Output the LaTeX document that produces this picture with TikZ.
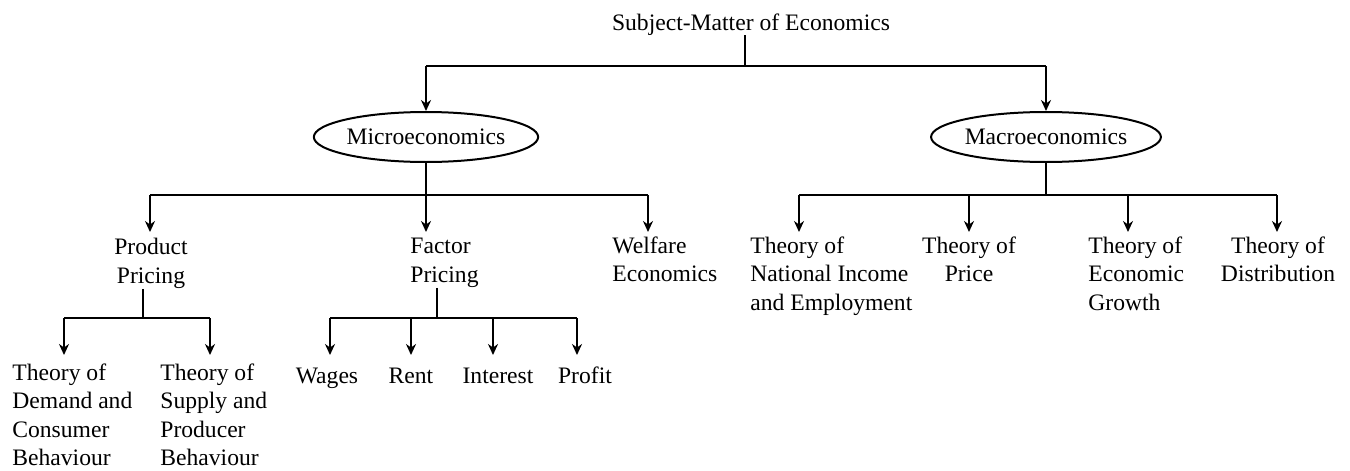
\documentclass[tikz,border=0pt]{standalone}
\usepackage{fontspec}
\setmainfont{Liberation Serif}
\usetikzlibrary{arrows.meta,shapes.geometric}
\begin{document}
\begin{tikzpicture}[x=0.5pt,y=-0.5pt,
  conn/.style={line width=1pt},
  arr/.style={line width=1pt,-{Stealth[length=5.5pt,width=5pt]},shorten >=3pt},
  lbl/.style={font=\fontsize{11.8}{14.3}\selectfont,inner sep=0pt,anchor=north,align=center},
  lbll/.style={font=\fontsize{11.8}{14.3}\selectfont,inner sep=0pt,anchor=north west,align=left},
  leaf/.style={font=\fontsize{11.8}{14.3}\selectfont,inner sep=0pt,anchor=north,text height=8.5pt,text depth=2.5pt},
  oval/.style={draw,ellipse,line width=1pt,minimum width=96pt,minimum height=25pt,inner sep=0pt,font=\fontsize{11.8}{14.3}\selectfont}]
\useasboundingbox (0,0) rectangle (1350,471);
% nodes
\node[lbl] (root) at (751,13) {Subject-Matter of Economics};
\node[oval] (micro) at (426,137) {Microeconomics};
\node[oval] (macro) at (1046,137) {Macroeconomics};
\node[lbl] (product) at (151,238) {Product\\Pricing};
\node[lbll] (factor) at (410,238) {Factor\\Pricing};
\node[lbll] (welfare) at (612,236) {Welfare\\Economics};
\node[lbll] (demand) at (12,363) {Theory of\\Demand and\\Consumer\\Behaviour};
\node[lbll] (supply) at (160,363) {Theory of\\Supply and\\Producer\\Behaviour};
\node[leaf] (wages) at (327,366) {Wages};
\node[leaf] (rent) at (411,366) {Rent};
\node[leaf] (interest) at (498,366) {Interest};
\node[leaf] (profit) at (585,366) {Profit};
\node[lbll] (national) at (750,236) {Theory of\\National Income\\and Employment};
\node[lbl] (price) at (969,236) {Theory of\\Price};
\node[lbll] (growth) at (1088,236) {Theory of\\Economic\\Growth};
\node[lbl] (distribution) at (1278,236) {Theory of\\Distribution};
% junctions
\coordinate (j0) at (745,66);
\coordinate (j0l) at (426,66);
\coordinate (j0r) at (1046,66);
\coordinate (j1) at (426,195);
\coordinate (j1l) at (150,195);
\coordinate (j1r) at (648,195);
\coordinate (j2) at (143,318);
\coordinate (j2l) at (64,318);
\coordinate (j2r) at (210,318);
\coordinate (j3) at (437,318);
\coordinate (j3l) at (330,318);
\coordinate (j3b) at (411,318);
\coordinate (j3c) at (493,318);
\coordinate (j3r) at (577,318);
\coordinate (j4) at (1046,195);
\coordinate (j4l) at (799,195);
\coordinate (j4b) at (969,195);
\coordinate (j4c) at (1128,195);
\coordinate (j4r) at (1277,195);
% level 0
\draw[conn] (j0 |- root.south) -- (j0);
\draw[conn] (j0l) -- (j0r);
\draw[arr,shorten >=0pt] (j0l) -- (micro.north);
\draw[arr,shorten >=0pt] (j0r) -- (macro.north);
% micro
\draw[conn] (micro.south) -- (j1);
\draw[conn] (j1l) -- (j1r);
\draw[arr] (j1l) -- (j1l |- product.north);
\draw[arr] (j1) -- (j1 |- factor.north);
\draw[arr,shorten >=2pt] (j1r) -- (j1r |- welfare.north);
% product pricing
\draw[conn] (j2 |- product.south) -- (j2);
\draw[conn] (j2l) -- (j2r);
\draw[arr,shorten >=4pt] (j2l) -- (j2l |- demand.north);
\draw[arr,shorten >=4pt] (j2r) -- (j2r |- supply.north);
% factor pricing
\draw[conn] (j3 |- factor.south) -- (j3);
\draw[conn] (j3l) -- (j3r);
\draw[arr,shorten >=5.5pt] (j3l) -- (j3l |- wages.north);
\draw[arr,shorten >=5.5pt] (j3b) -- (j3b |- rent.north);
\draw[arr,shorten >=5.5pt] (j3c) -- (j3c |- interest.north);
\draw[arr,shorten >=5.5pt] (j3r) -- (j3r |- profit.north);
% macro
\draw[conn] (macro.south) -- (j4);
\draw[conn] (j4l) -- (j4r);
\draw[arr,shorten >=2pt] (j4l) -- (j4l |- national.north);
\draw[arr,shorten >=2pt] (j4b) -- (j4b |- price.north);
\draw[arr,shorten >=2pt] (j4c) -- (j4c |- growth.north);
\draw[arr,shorten >=2pt] (j4r) -- (j4r |- distribution.north);
\end{tikzpicture}
\end{document}
